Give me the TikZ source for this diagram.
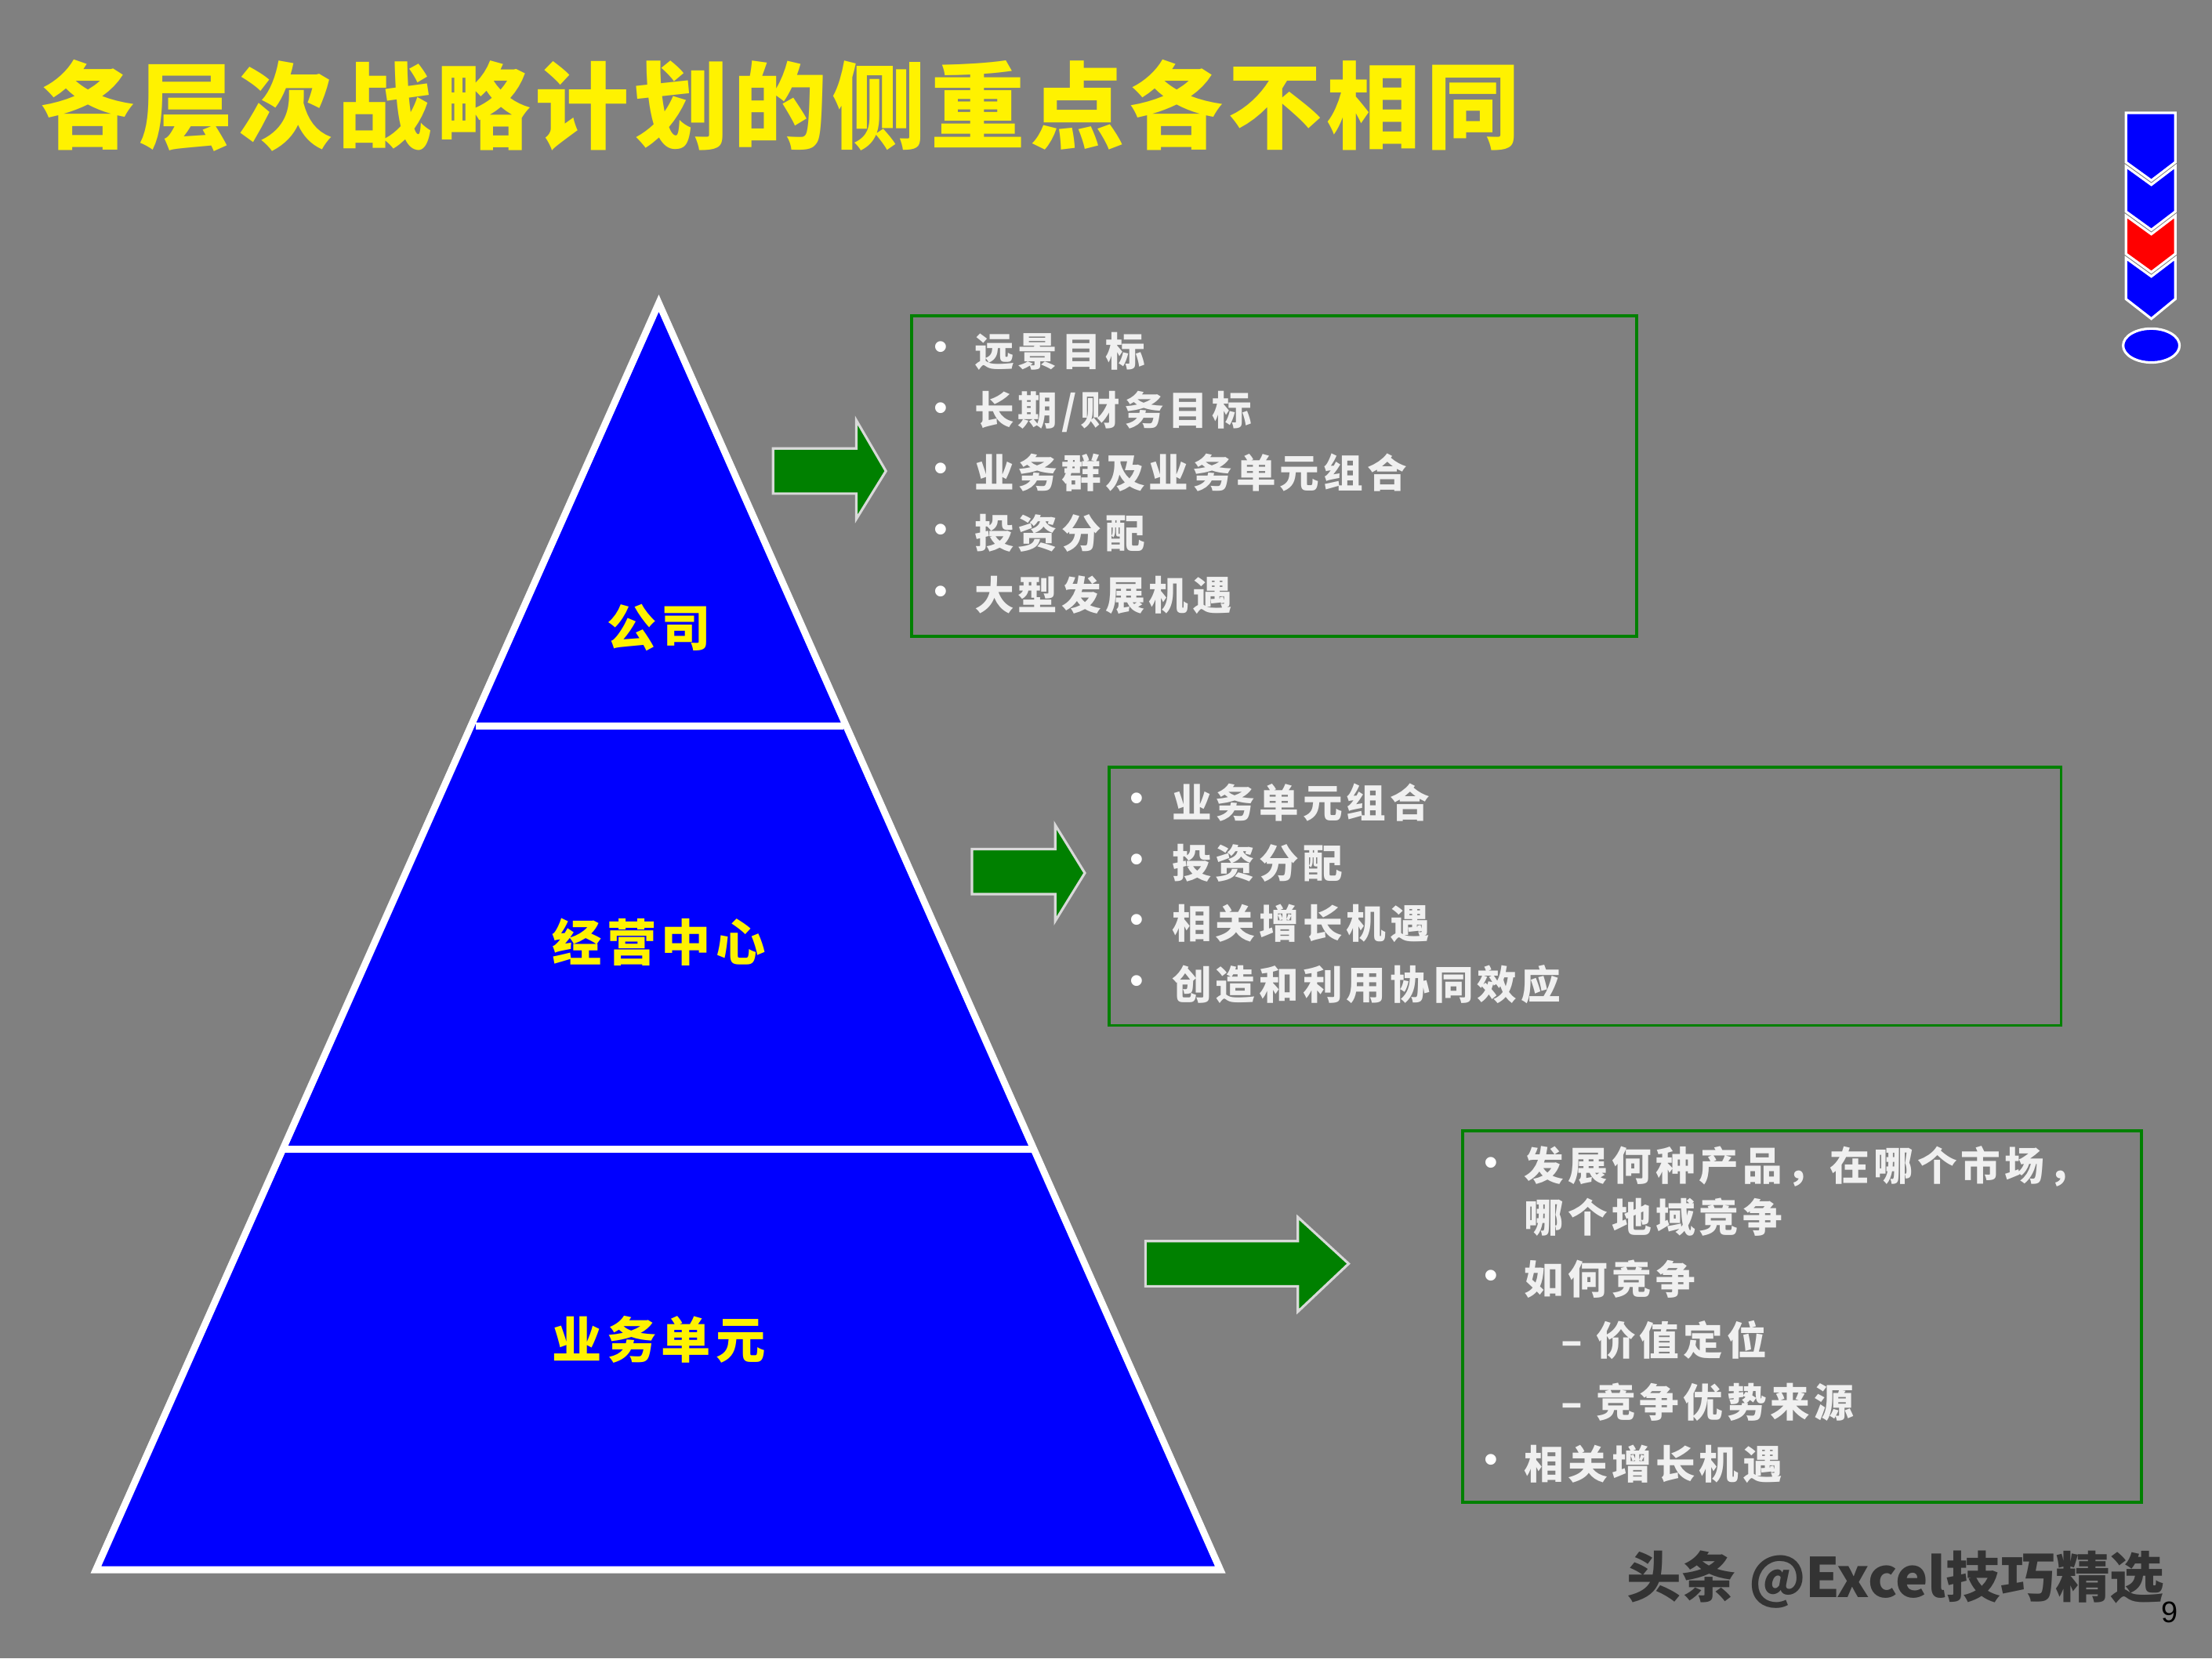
\documentclass[tikz,border=0pt]{standalone}
\usepackage{fontspec}
\setmainfont{Liberation Sans}
\newfontfamily\cjk{Noto Sans CJK SC}
\newfontfamily\cjksp[LetterSpace=10]{Noto Sans CJK SC}
\newfontfamily\cjkt[LetterSpace=5]{Noto Sans CJK SC}
\begin{document}
\begin{tikzpicture}[x=0.01cm,y=-0.01cm,
  lvl/.style={text=yellow,font=\cjksp\bfseries\fontsize{10}{12}\selectfont},
  item/.style={anchor=west,text=white!94!black,font=\cjksp\bfseries\fontsize{8}{10}\selectfont,inner sep=0},
  bul/.style={text=white,font=\fontsize{8}{10}\selectfont,inner sep=0},
  gbox/.style={draw=green!50!black,line width=0.6pt},
  garrow/.style={fill=green!50!black,draw=white!85!black,line width=0.5pt}]
\useasboundingbox[fill=black!50] (0,0) rectangle (1568,1176);
\node[anchor=west,text=yellow,font=\cjkt\bfseries\fontsize{19}{22}\selectfont,inner sep=0] (title) at (28,75) {各层次战略计划的侧重点各不相同};
% pyramid
\fill[blue] (467,215) -- (865,1113) -- (68,1113) -- cycle;
\draw[white,line width=1.4pt,line join=miter] (467,215) -- (865,1113) -- (68,1113) -- cycle;
\draw[white,line width=1.4pt] (337,515) -- (598,515);
\draw[white,line width=1.4pt] (202,815) -- (733,815);
\node[lvl] (l1) at (467,445) {公司};
\node[lvl] (l2) at (467,668) {经营中心};
\node[lvl] (l3) at (467,950) {业务单元};
% arrows
\draw[garrow] (548,318) -- (607,318) -- (607,298) -- (628,334) -- (607,368) -- (607,350) -- (548,350) -- cycle;
\draw[garrow] (689,602) -- (748,602) -- (748,585) -- (769,619) -- (748,653) -- (748,634) -- (689,634) -- cycle;
\draw[garrow] (812,880) -- (920,880) -- (920,863) -- (956,896) -- (920,930) -- (920,912) -- (812,912) -- cycle;
% boxes
\draw[gbox] (646,224) rectangle (1160,451);
\foreach \y/\t in {249/{远景目标},292/{长期/财务目标},335/{业务群及业务单元组合},378/{投资分配},422/{大型发展机遇}}{
  \node[bul] at (667,\y) {•}; \node[item] at (690,\y) {\t};}
\draw[gbox] (786,544) rectangle (1461,727);
\foreach \y/\t in {569/{业务单元组合},612/{投资分配},655/{相关增长机遇},698/{创造和利用协同效应}}{
  \node[bul] at (806,\y) {•}; \node[item] at (830,\y) {\t};}
\draw[gbox] (1037,802) rectangle (1518,1065);
\foreach \y in {827,907,1038}{
  \node[bul] at (1057,\y) {•};}
\node[item] at (1080,827) {发展何种产品，在哪个市场，};
\node[item] at (1080,863) {哪个地域竞争};
\node[item] at (1080,907) {如何竞争};
\node[item] at (1106,950) {– 价值定位};
\node[item] at (1106,994) {– 竞争优势来源};
\node[item] at (1080,1038) {相关增长机遇};
% icon
\fill[blue,draw=white,line width=0.5pt] (1507,80) -- (1542,80) -- (1542,115) -- (1525,128) -- (1507,115) -- cycle;
\fill[blue,draw=white,line width=0.5pt] (1507,118) -- (1525,131) -- (1542,118) -- (1542,150) -- (1525,163) -- (1507,150) -- cycle;
\fill[red,draw=white,line width=0.5pt] (1507,153) -- (1525,166) -- (1542,153) -- (1542,180) -- (1525,193) -- (1507,180) -- cycle;
\fill[blue,draw=white,line width=0.5pt] (1507,183) -- (1525,196) -- (1542,183) -- (1542,212) -- (1525,226) -- (1507,212) -- cycle;
\fill[blue,draw=white,line width=0.5pt] (1525,245) ellipse (20 and 12);
% watermark
\node[anchor=east,text=black!80,font=\cjk\bfseries\fontsize{11}{13}\selectfont,inner sep=0] (wm) at (1535,1120) {头条 @Excel技巧精选};
\node[text=black,font=\fontsize{6}{7}\selectfont,inner sep=0] (pg) at (1538,1143) {9};
\end{tikzpicture}
\end{document}
